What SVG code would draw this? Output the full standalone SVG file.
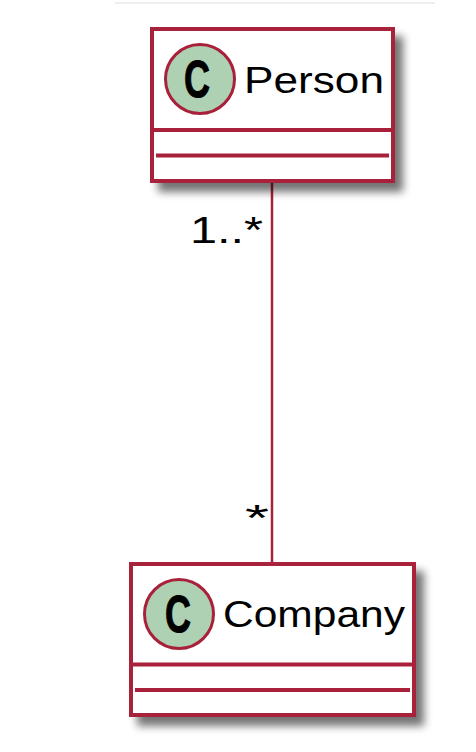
<svg xmlns="http://www.w3.org/2000/svg" width="476" height="752" viewBox="0 0 476 752">
<style>
.box{fill:#FFFFFF;stroke:#A8203A;stroke-width:4}
.sep{stroke:#A8203A;stroke-width:4}
.circ{fill:#ADD1B2;stroke:#A8203A;stroke-width:3}
.cg{font-family:"Liberation Sans",Arial,sans-serif;font-weight:bold;font-size:51px;fill:#000;stroke:#000;stroke-width:1}
.name{font-family:"Liberation Sans",Arial,sans-serif;font-size:37px;fill:#000}
.lbl{font-family:"Liberation Sans",Arial,sans-serif;font-size:37px;fill:#000}
.conn{stroke:#A8203A;stroke-width:2.5;fill:none}
</style>
<defs>
<filter id="sh" x="-10%" y="-10%" width="130%" height="140%">
<feGaussianBlur in="SourceAlpha" stdDeviation="4.5"/>
<feOffset dx="8" dy="9" result="b"/>
<feComponentTransfer><feFuncA type="linear" slope="0.55"/></feComponentTransfer>
<feMerge><feMergeNode/><feMergeNode in="SourceGraphic"/></feMerge>
</filter>
</defs>
<rect width="476" height="752" fill="#FFFFFF"/>
<line x1="115" y1="3" x2="435" y2="3" stroke="#EEEEEE" stroke-width="2"/>
<g id="connectors">
<line class="conn" x1="272" y1="183" x2="272" y2="562"/>
<text class="lbl" x="190" y="243" textLength="73" lengthAdjust="spacingAndGlyphs">1..*</text>
<text class="lbl" x="245" y="531" font-size="42" textLength="24" lengthAdjust="spacingAndGlyphs">*</text>
</g>
<g id="Person">
<rect class="box" x="152" y="29" width="241" height="152" filter="url(#sh)"/>
<line class="sep" x1="152" y1="130" x2="393" y2="130"/>
<line class="sep" x1="156" y1="155.5" x2="389" y2="155.5"/>
<circle class="circ" cx="200" cy="79" r="34.5"/>
<text class="cg" x="184" y="97" textLength="26" lengthAdjust="spacingAndGlyphs">C</text>
<text class="name" x="244" y="93" textLength="140" lengthAdjust="spacingAndGlyphs">Person</text>
</g>
<g id="Company">
<rect class="box" x="131" y="564" width="283" height="151" filter="url(#sh)"/>
<line class="sep" x1="131" y1="664.5" x2="414" y2="664.5"/>
<line class="sep" x1="135" y1="690" x2="410" y2="690"/>
<circle class="circ" cx="179" cy="614" r="34.5"/>
<text class="cg" x="165" y="632" textLength="26" lengthAdjust="spacingAndGlyphs">C</text>
<text class="name" x="223" y="627" textLength="182" lengthAdjust="spacingAndGlyphs">Company</text>
</g>
</svg>
